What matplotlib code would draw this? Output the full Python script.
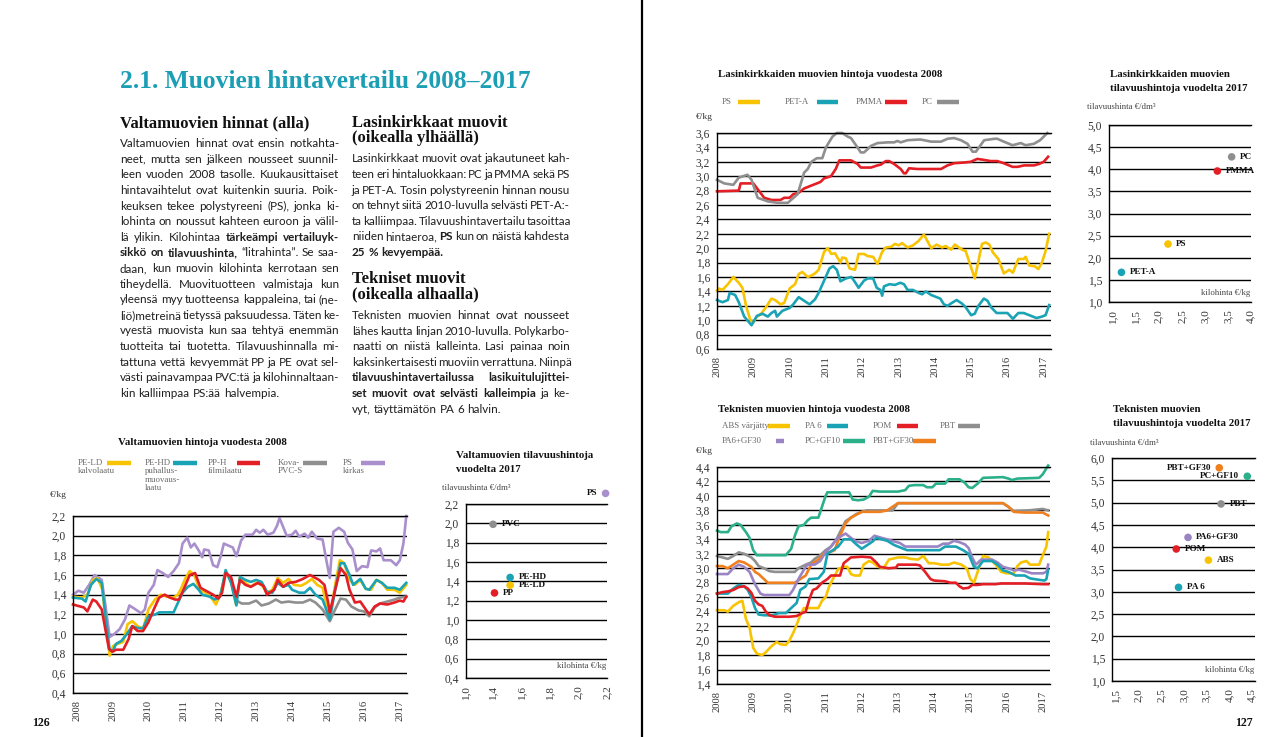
import matplotlib
matplotlib.use('Agg')
import matplotlib.pyplot as plt
from matplotlib.lines import Line2D

# page spread: two text columns + six small charts
W, H = 1280, 737
fig = plt.figure(figsize=(12.8, 7.37), dpi=100)
plt.rcParams['font.family'] = ['Liberation Serif', 'DejaVu Serif']

SERIF = 'Liberation Serif'
SANS = 'Lato'
TEAL_TITLE = '#1c9fb5'

YELLOW = '#f8c300'
TEAL = '#1aa3b4'
RED = '#e31e24'
GRAY = '#8f8f8f'
LAVENDER = '#a98fcc'
PURPLE = '#9a84c4'
GREEN = '#2bb08a'
ORANGE = '#f07f1e'


def fx(x):
    return x / W


def fy(y):
    return 1 - y / H


# ---------------- text of the page ----------------
title = '2.1. Muovien hintavertailu 2008–2017'

left_head = 'Valtamuovien hinnat (alla)'
left_lines = [
    'Valtamuovien hinnat ovat ensin notkahta-',
    'neet, mutta sen jälkeen nousseet suunnil-',
    'leen vuoden 2008 tasolle. Kuukausittaiset',
    'hintavaihtelut ovat kuitenkin suuria. Poik-',
    'keuksen tekee polystyreeni (PS), jonka ki-',
    'lohinta on noussut kahteen euroon ja välil-',
    'lä ylikin. Kilohintaa *tärkeämpi *vertailuyk-',
    '*sikkö *on *tilavuushinta, “litrahinta”. Se saa-',
    'daan, kun muovin kilohinta kerrotaan sen',
    'tiheydellä. Muovituotteen valmistaja kun',
    'yleensä myy tuotteensa kappaleina, tai (ne-',
    'liö)metreinä tietyssä paksuudessa. Täten ke-',
    'vyestä muovista kun saa tehtyä enemmän',
    'tuotteita tai tuotetta. Tilavuushinnalla mi-',
    'tattuna vettä kevyemmät PP ja PE ovat sel-',
    'västi painavampaa PVC:tä ja kilohinnaltaan-',
    'kin kalliimpaa PS:ää halvempia.',
]

right_head1 = ['Lasinkirkkaat muovit', '(oikealla ylhäällä)']
right_lines1 = [
    'Lasinkirkkaat muovit ovat jakautuneet kah-',
    'teen eri hintaluokkaan: PC ja PMMA sekä PS',
    'ja PET-A. Tosin polystyreenin hinnan nousu',
    'on tehnyt siitä 2010-luvulla selvästi PET-A:-',
    'ta kalliimpaa. Tilavuushintavertailu tasoittaa',
    'niiden hintaeroa, *PS kun on näistä kahdesta',
    '*25 *% *kevyempää.',
]
right_head2 = ['Tekniset muovit', '(oikealla alhaalla)']
right_lines2 = [
    'Teknisten muovien hinnat ovat nousseet',
    'lähes kautta linjan 2010-luvulla. Polykarbo-',
    'naatti on niistä kalleinta. Lasi painaa noin',
    'kaksinkertaisesti muoviin verrattuna. Niinpä',
    '*tilavuushintavertailussa *lasikuitulujittei-',
    '*set *muovit *ovat *selvästi *kalleimpia ja ke-',
    'vyt, täyttämätön PA 6 halvin.',
]

# ---------------- chart data ----------------
years = list(range(2008, 2018))

# Valtamuovien hintoja vuodesta 2008 (€/kg)
pe_ld = [(2007.9, 1.38), (2008.15, 1.37), (2008.3, 1.40), (2008.45, 1.55), (2008.58, 1.57), (2008.72, 1.45),
         (2008.82, 1.10), (2008.92, 0.78), (2009.02, 0.88), (2009.15, 0.90), (2009.3, 0.92), (2009.42, 1.10),
         (2009.55, 1.13), (2009.7, 1.08), (2009.85, 1.05), (2010.0, 1.25), (2010.18, 1.35), (2010.35, 1.40),
         (2010.5, 1.38), (2010.7, 1.37), (2010.82, 1.40), (2010.92, 1.47), (2011.02, 1.56), (2011.15, 1.64),
         (2011.28, 1.60), (2011.42, 1.45), (2011.6, 1.42), (2011.75, 1.37), (2011.88, 1.30), (2012.0, 1.40),
         (2012.15, 1.62), (2012.3, 1.55), (2012.44, 1.30), (2012.55, 1.58), (2012.7, 1.52), (2012.85, 1.48),
         (2013.0, 1.52), (2013.15, 1.50), (2013.3, 1.42), (2013.45, 1.45), (2013.6, 1.57), (2013.75, 1.52),
         (2013.9, 1.56), (2014.05, 1.50), (2014.25, 1.49), (2014.4, 1.52), (2014.55, 1.56), (2014.7, 1.50),
         (2014.85, 1.47), (2014.97, 1.28), (2015.05, 1.17), (2015.2, 1.50), (2015.33, 1.75), (2015.45, 1.72),
         (2015.6, 1.55), (2015.75, 1.50), (2015.9, 1.55), (2016.05, 1.46), (2016.2, 1.45), (2016.35, 1.55),
         (2016.5, 1.52), (2016.65, 1.45), (2016.85, 1.45), (2017.0, 1.42), (2017.18, 1.50)]
pe_hd = [(2007.9, 1.37), (2008.15, 1.36), (2008.25, 1.33), (2008.4, 1.50), (2008.55, 1.56), (2008.7, 1.52),
         (2008.8, 1.20), (2008.92, 0.84), (2009.0, 0.82), (2009.1, 0.90), (2009.25, 0.93), (2009.4, 1.00),
         (2009.55, 1.08), (2009.7, 1.06), (2009.85, 1.06), (2010.0, 1.18), (2010.2, 1.20), (2010.3, 1.22),
         (2010.5, 1.22), (2010.7, 1.22), (2010.8, 1.30), (2010.95, 1.42), (2011.1, 1.48), (2011.25, 1.51),
         (2011.4, 1.45), (2011.5, 1.40), (2011.7, 1.38), (2011.85, 1.35), (2012.0, 1.38), (2012.15, 1.65),
         (2012.3, 1.52), (2012.45, 1.29), (2012.55, 1.58), (2012.7, 1.55), (2012.85, 1.53), (2013.0, 1.55),
         (2013.15, 1.53), (2013.3, 1.43), (2013.45, 1.42), (2013.6, 1.52), (2013.75, 1.48), (2013.9, 1.50),
         (2014.0, 1.45), (2014.2, 1.42), (2014.35, 1.42), (2014.5, 1.47), (2014.65, 1.40), (2014.85, 1.35),
         (2015.0, 1.20), (2015.05, 1.15), (2015.2, 1.45), (2015.35, 1.72), (2015.45, 1.72), (2015.6, 1.60),
         (2015.7, 1.50), (2015.9, 1.56), (2016.05, 1.46), (2016.15, 1.45), (2016.35, 1.55), (2016.5, 1.52),
         (2016.65, 1.47), (2016.85, 1.47), (2017.0, 1.45), (2017.18, 1.52)]
pp_h = [(2007.9, 1.30), (2008.2, 1.27), (2008.3, 1.23), (2008.45, 1.35), (2008.55, 1.33), (2008.7, 1.25),
        (2008.8, 1.05), (2008.9, 0.85), (2009.0, 0.82), (2009.1, 0.84), (2009.3, 0.84), (2009.45, 0.95),
        (2009.55, 1.08), (2009.7, 1.03), (2009.85, 1.03), (2010.0, 1.12), (2010.15, 1.25), (2010.3, 1.37),
        (2010.45, 1.40), (2010.6, 1.37), (2010.75, 1.35), (2010.85, 1.35), (2011.0, 1.47), (2011.15, 1.60),
        (2011.3, 1.62), (2011.45, 1.47), (2011.6, 1.44), (2011.8, 1.40), (2011.95, 1.36), (2012.05, 1.42),
        (2012.15, 1.62), (2012.3, 1.58), (2012.45, 1.38), (2012.55, 1.55), (2012.7, 1.50), (2012.85, 1.48),
        (2013.05, 1.52), (2013.2, 1.49), (2013.3, 1.40), (2013.5, 1.45), (2013.6, 1.55), (2013.75, 1.48),
        (2013.9, 1.52), (2014.1, 1.53), (2014.3, 1.56), (2014.5, 1.60), (2014.6, 1.58), (2014.75, 1.55),
        (2014.9, 1.50), (2015.0, 1.33), (2015.05, 1.22), (2015.2, 1.45), (2015.35, 1.67), (2015.5, 1.60),
        (2015.6, 1.45), (2015.75, 1.32), (2015.9, 1.33), (2016.05, 1.25), (2016.15, 1.20), (2016.3, 1.28),
        (2016.45, 1.31), (2016.65, 1.30), (2016.85, 1.32), (2017.0, 1.34), (2017.1, 1.33), (2017.18, 1.38)]
pvc_s = [(2012.45, 1.34), (2012.6, 1.31), (2012.8, 1.31), (2013.0, 1.34), (2013.15, 1.29), (2013.35, 1.31),
         (2013.55, 1.35), (2013.7, 1.32), (2013.9, 1.33), (2014.1, 1.32), (2014.3, 1.32), (2014.5, 1.35),
         (2014.65, 1.32), (2014.85, 1.25), (2015.0, 1.16), (2015.05, 1.13), (2015.2, 1.25), (2015.35, 1.36),
         (2015.5, 1.35), (2015.65, 1.28), (2015.85, 1.24), (2016.0, 1.23), (2016.15, 1.18), (2016.3, 1.27),
         (2016.45, 1.31), (2016.65, 1.33), (2016.85, 1.35), (2017.0, 1.37), (2017.18, 1.38)]
ps_kirkas = [(2007.9, 1.40), (2008.05, 1.44), (2008.2, 1.42), (2008.35, 1.50), (2008.5, 1.60), (2008.7, 1.55),
             (2008.8, 1.30), (2008.92, 0.97), (2009.05, 1.00), (2009.2, 1.05), (2009.35, 1.15), (2009.47, 1.29),
             (2009.6, 1.26), (2009.8, 1.21), (2009.9, 1.25), (2010.0, 1.42), (2010.15, 1.50), (2010.25, 1.65),
             (2010.4, 1.62), (2010.55, 1.58), (2010.7, 1.64), (2010.85, 1.72), (2010.95, 1.92), (2011.08, 1.98),
             (2011.18, 1.88), (2011.28, 1.92), (2011.4, 1.85), (2011.5, 1.78), (2011.55, 1.86), (2011.68, 1.85),
             (2011.8, 1.70), (2011.92, 1.68), (2012.02, 1.80), (2012.1, 1.92), (2012.22, 1.90), (2012.35, 1.88),
             (2012.45, 1.79), (2012.58, 1.95), (2012.7, 2.01), (2012.9, 2.01), (2013.0, 2.06), (2013.1, 2.03),
             (2013.2, 2.06), (2013.32, 2.01), (2013.48, 2.03), (2013.58, 2.10), (2013.65, 2.18), (2013.85, 2.00),
             (2014.0, 2.01), (2014.1, 2.05), (2014.2, 1.99), (2014.35, 2.02), (2014.45, 1.98), (2014.55, 2.04),
             (2014.7, 1.97), (2014.85, 1.96), (2014.97, 1.72), (2015.05, 1.57), (2015.15, 2.04), (2015.3, 2.08),
             (2015.45, 2.04), (2015.55, 1.93), (2015.68, 1.86), (2015.8, 1.64), (2015.95, 1.69), (2016.1, 1.68),
             (2016.2, 1.85), (2016.35, 1.84), (2016.45, 1.87), (2016.55, 1.75), (2016.75, 1.75), (2016.9, 1.70),
             (2017.0, 1.75), (2017.1, 1.92), (2017.18, 2.20)]

# Valtamuovien tilavuushintoja vuodelta 2017: (kilohinta €/kg, tilavuushinta €/dm3)
bulk_names = ['PVC', 'PE-HD', 'PE-LD', 'PP', 'PS']
bulk_kilo = [1.40, 1.52, 1.52, 1.41, 2.19]
bulk_vol = [1.99, 1.44, 1.36, 1.28, 2.31]
bulk_colors = [GRAY, TEAL, YELLOW, RED, LAVENDER]
bulk_xticks = [1.21, 1.4, 1.6, 1.8, 2.0, 2.2]
bulk_xlabels = ['1,0', '1,4', '1,6', '1,8', '2,0', '2,2']

# Lasinkirkkaiden muovien hintoja vuodesta 2008 (€/kg)
ps_clear = [(2008.0, 1.41), (2008.05, 1.44), (2008.15, 1.42), (2008.3, 1.50), (2008.45, 1.60), (2008.6, 1.52),
            (2008.7, 1.45), (2008.8, 1.20), (2008.92, 1.00), (2009.0, 0.97), (2009.1, 1.05), (2009.2, 1.08),
            (2009.35, 1.18), (2009.5, 1.30), (2009.6, 1.28), (2009.75, 1.22), (2009.85, 1.24), (2010.0, 1.44),
            (2010.15, 1.50), (2010.25, 1.64), (2010.35, 1.67), (2010.5, 1.60), (2010.6, 1.62), (2010.7, 1.65),
            (2010.8, 1.70), (2010.95, 1.95), (2011.05, 2.00), (2011.15, 1.92), (2011.25, 1.93), (2011.4, 1.80),
            (2011.45, 1.87), (2011.55, 1.86), (2011.65, 1.72), (2011.8, 1.70), (2011.9, 1.92), (2012.05, 1.92),
            (2012.15, 1.89), (2012.3, 1.88), (2012.42, 1.78), (2012.55, 1.95), (2012.65, 2.01), (2012.8, 2.02),
            (2012.9, 2.06), (2013.0, 2.04), (2013.1, 2.07), (2013.25, 2.01), (2013.4, 2.04), (2013.55, 2.10),
            (2013.7, 2.19), (2013.9, 2.00), (2014.05, 2.05), (2014.2, 2.01), (2014.3, 2.03), (2014.45, 1.98),
            (2014.55, 2.05), (2014.75, 1.98), (2014.85, 1.96), (2015.1, 1.58), (2015.3, 2.06), (2015.4, 2.08),
            (2015.5, 2.05), (2015.6, 1.94), (2015.75, 1.85), (2015.9, 1.65), (2016.05, 1.70), (2016.15, 1.66),
            (2016.3, 1.85), (2016.45, 1.85), (2016.5, 1.88), (2016.6, 1.76), (2016.75, 1.75), (2016.85, 1.71),
            (2016.95, 1.80), (2017.05, 1.96), (2017.15, 2.20)]
pet_a = [(2008.0, 1.28), (2008.15, 1.25), (2008.3, 1.28), (2008.35, 1.38), (2008.5, 1.35), (2008.6, 1.25),
         (2008.75, 1.05), (2008.85, 0.99), (2008.95, 0.93), (2009.1, 1.06), (2009.25, 1.09), (2009.4, 1.05),
         (2009.5, 1.10), (2009.6, 1.13), (2009.65, 1.05), (2009.8, 1.13), (2010.0, 1.17), (2010.1, 1.22),
         (2010.25, 1.32), (2010.4, 1.27), (2010.55, 1.22), (2010.7, 1.29), (2010.8, 1.38), (2010.95, 1.55),
         (2011.1, 1.72), (2011.2, 1.75), (2011.3, 1.70), (2011.4, 1.54), (2011.55, 1.58), (2011.7, 1.60),
         (2011.8, 1.53), (2011.9, 1.45), (2012.05, 1.55), (2012.15, 1.58), (2012.3, 1.58), (2012.4, 1.45),
         (2012.5, 1.42), (2012.55, 1.34), (2012.6, 1.47), (2012.75, 1.50), (2012.9, 1.49), (2013.05, 1.52),
         (2013.15, 1.50), (2013.25, 1.42), (2013.4, 1.42), (2013.55, 1.38), (2013.65, 1.36), (2013.75, 1.40),
         (2013.9, 1.35), (2014.05, 1.32), (2014.15, 1.30), (2014.25, 1.22), (2014.35, 1.20), (2014.5, 1.25),
         (2014.6, 1.28), (2014.75, 1.23), (2014.85, 1.18), (2015.0, 1.07), (2015.1, 1.09), (2015.2, 1.20),
         (2015.35, 1.30), (2015.45, 1.27), (2015.55, 1.18), (2015.7, 1.10), (2015.85, 1.10), (2016.0, 1.10),
         (2016.15, 1.02), (2016.3, 1.10), (2016.45, 1.10), (2016.6, 1.07), (2016.8, 1.03), (2016.95, 1.05),
         (2017.05, 1.07), (2017.15, 1.21)]
pmma = [(2008.0, 2.79), (2008.6, 2.80), (2008.65, 2.90), (2009.0, 2.90), (2009.3, 2.70), (2009.5, 2.67),
        (2009.75, 2.67), (2009.85, 2.70), (2010.0, 2.70), (2010.1, 2.75), (2010.25, 2.77), (2010.4, 2.83),
        (2010.6, 2.87), (2010.85, 2.92), (2010.95, 2.97), (2011.14, 3.00), (2011.27, 3.10), (2011.37, 3.22),
        (2011.69, 3.22), (2011.87, 3.17), (2011.96, 3.12), (2012.24, 3.12), (2012.42, 3.15), (2012.51, 3.16),
        (2012.65, 3.21), (2012.74, 3.21), (2012.88, 3.17), (2013.06, 3.10), (2013.15, 3.04), (2013.2, 3.04),
        (2013.29, 3.11), (2013.52, 3.10), (2014.17, 3.10), (2014.35, 3.15), (2014.53, 3.18), (2014.8, 3.19),
        (2014.99, 3.20), (2015.17, 3.24), (2015.31, 3.23), (2015.54, 3.21), (2015.72, 3.21), (2015.9, 3.18),
        (2016.14, 3.13), (2016.28, 3.13), (2016.46, 3.15), (2016.73, 3.15), (2016.87, 3.17), (2017.0, 3.20),
        (2017.12, 3.27)]
pc = [(2008.0, 2.95), (2008.2, 2.90), (2008.45, 2.88), (2008.6, 2.98), (2008.84, 3.02), (2008.95, 2.95),
      (2009.12, 2.70), (2009.4, 2.65), (2009.67, 2.63), (2009.95, 2.63), (2010.22, 2.75), (2010.4, 3.05),
      (2010.5, 3.10), (2010.6, 3.20), (2010.75, 3.25), (2010.9, 3.25), (2011.0, 3.40), (2011.18, 3.55),
      (2011.3, 3.60), (2011.45, 3.60), (2011.6, 3.55), (2011.69, 3.53), (2011.87, 3.40), (2011.96, 3.33),
      (2012.05, 3.33), (2012.24, 3.42), (2012.42, 3.46), (2012.7, 3.47), (2012.88, 3.47), (2012.97, 3.49),
      (2013.06, 3.47), (2013.25, 3.50), (2013.6, 3.51), (2013.9, 3.48), (2014.17, 3.48), (2014.35, 3.52),
      (2014.53, 3.53), (2014.72, 3.50), (2014.9, 3.45), (2015.04, 3.34), (2015.13, 3.34), (2015.36, 3.50),
      (2015.65, 3.52), (2015.72, 3.52), (2015.9, 3.48), (2016.14, 3.43), (2016.37, 3.46), (2016.5, 3.43),
      (2016.73, 3.45), (2016.9, 3.50), (2017.1, 3.60)]

# Lasinkirkkaiden muovien tilavuushintoja vuodelta 2017
clear_names = ['PC', 'PMMA', 'PS', 'PET-A']
clear_kilo = [3.58, 3.27, 2.20, 1.19]
clear_vol = [4.28, 3.96, 2.31, 1.67]
clear_colors = [GRAY, RED, YELLOW, TEAL]

# Teknisten muovien hintoja vuodesta 2008 (€/kg)
abs_v = [(2008.0, 2.42), (2008.2, 2.42), (2008.3, 2.40), (2008.45, 2.48), (2008.6, 2.53), (2008.7, 2.55),
         (2008.8, 2.30), (2008.9, 2.18), (2009.0, 1.90), (2009.1, 1.82), (2009.25, 1.80), (2009.35, 1.84),
         (2009.5, 1.92), (2009.65, 1.98), (2009.75, 1.95), (2009.9, 1.94), (2010.0, 2.00), (2010.1, 2.10),
         (2010.2, 2.22), (2010.3, 2.35), (2010.4, 2.45), (2010.5, 2.45), (2010.8, 2.45), (2010.9, 2.55),
         (2011.0, 2.60), (2011.1, 2.75), (2011.2, 2.85), (2011.35, 2.99), (2011.5, 3.02), (2011.6, 3.02),
         (2011.7, 2.92), (2011.8, 2.90), (2011.95, 2.90), (2012.05, 3.05), (2012.2, 3.10), (2012.3, 3.08),
         (2012.45, 3.02), (2012.6, 3.00), (2012.75, 3.12), (2013.0, 3.15), (2013.2, 3.15), (2013.35, 3.13),
         (2013.55, 3.12), (2013.7, 3.17), (2013.85, 3.07), (2014.0, 3.07), (2014.2, 3.05), (2014.4, 3.05),
         (2014.55, 3.08), (2014.75, 3.05), (2014.9, 3.00), (2015.0, 2.85), (2015.1, 2.80), (2015.2, 2.95),
         (2015.35, 3.17), (2015.5, 3.15), (2015.7, 3.05), (2015.85, 2.95), (2016.0, 2.93), (2016.2, 2.93),
         (2016.3, 3.03), (2016.4, 3.08), (2016.55, 3.10), (2016.65, 3.05), (2016.9, 3.05), (2017.0, 3.18),
         (2017.1, 3.30), (2017.15, 3.50)]
pa6 = [(2008.0, 2.65), (2008.15, 2.65), (2008.3, 2.65), (2008.45, 2.72), (2008.6, 2.77), (2008.75, 2.75),
       (2008.85, 2.70), (2008.95, 2.60), (2009.05, 2.45), (2009.15, 2.36), (2009.3, 2.35), (2009.55, 2.35),
       (2009.7, 2.38), (2009.9, 2.38), (2010.05, 2.45), (2010.2, 2.52), (2010.3, 2.70), (2010.45, 2.75),
       (2010.55, 2.85), (2010.8, 2.86), (2010.95, 2.95), (2011.05, 3.20), (2011.2, 3.25), (2011.35, 3.30),
       (2011.5, 3.40), (2011.7, 3.40), (2011.85, 3.33), (2012.0, 3.27), (2012.15, 3.32), (2012.3, 3.37),
       (2012.4, 3.42), (2012.55, 3.40), (2012.7, 3.38), (2012.9, 3.32), (2013.1, 3.28), (2013.25, 3.25),
       (2014.15, 3.25), (2014.3, 3.30), (2014.6, 3.30), (2014.8, 3.25), (2014.95, 3.20), (2015.1, 3.02),
       (2015.2, 3.00), (2015.35, 3.10), (2015.6, 3.10), (2015.75, 3.05), (2015.9, 2.97), (2016.05, 2.95),
       (2016.25, 2.90), (2016.5, 2.90), (2016.65, 2.86), (2016.9, 2.84), (2017.05, 2.83), (2017.1, 2.85),
       (2017.15, 2.98)]
pom = [(2008.0, 2.65), (2008.15, 2.67), (2008.3, 2.68), (2008.45, 2.70), (2008.6, 2.74), (2008.75, 2.75),
       (2008.85, 2.72), (2008.95, 2.66), (2009.05, 2.55), (2009.15, 2.50), (2009.25, 2.48), (2009.35, 2.40),
       (2009.45, 2.35), (2009.6, 2.33), (2010.0, 2.33), (2010.2, 2.34), (2010.35, 2.38), (2010.45, 2.40),
       (2010.55, 2.57), (2010.65, 2.70), (2010.75, 2.72), (2010.9, 2.80), (2011.05, 2.85), (2011.15, 2.90),
       (2011.4, 2.90), (2011.5, 3.07), (2011.7, 3.15), (2012.0, 3.16), (2012.25, 3.15), (2012.4, 3.08),
       (2012.5, 3.02), (2012.75, 3.00), (2012.95, 3.01), (2013.0, 3.05), (2013.5, 3.05), (2013.6, 3.04),
       (2013.75, 2.95), (2013.9, 2.85), (2014.0, 2.83), (2014.3, 2.82), (2014.45, 2.80), (2014.6, 2.80),
       (2014.7, 2.75), (2014.8, 2.72), (2014.95, 2.73), (2015.05, 2.77), (2015.2, 2.77), (2015.35, 2.78),
       (2015.7, 2.78), (2015.85, 2.79), (2016.5, 2.79), (2017.0, 2.78), (2017.15, 2.78)]
pbt = [(2008.0, 3.17), (2008.15, 3.15), (2008.3, 3.13), (2008.45, 3.17), (2008.6, 3.22), (2008.75, 3.20),
       (2008.95, 3.15), (2009.05, 3.10), (2009.15, 3.03), (2009.3, 3.00), (2009.45, 2.96), (2009.6, 2.95),
       (2010.15, 2.95), (2010.25, 3.00), (2010.45, 3.05), (2010.6, 3.08), (2010.7, 3.13), (2010.85, 3.18),
       (2011.0, 3.25), (2011.15, 3.30), (2011.3, 3.40), (2011.45, 3.55), (2011.55, 3.65), (2011.7, 3.70),
       (2011.85, 3.75), (2012.0, 3.78), (2012.15, 3.80), (2012.85, 3.80), (2013.0, 3.90), (2015.9, 3.90),
       (2016.05, 3.85), (2016.2, 3.79), (2016.6, 3.80), (2017.0, 3.82), (2017.15, 3.80)]
pa6_gf30 = [(2008.0, 2.92), (2008.3, 2.92), (2008.45, 3.00), (2008.6, 3.05), (2008.75, 3.02), (2008.9, 2.95),
            (2009.05, 2.78), (2009.2, 2.65), (2009.3, 2.63), (2010.0, 2.63), (2010.1, 2.70), (2010.25, 2.85),
            (2010.4, 2.98), (2010.5, 3.05), (2010.7, 3.05), (2010.85, 3.10), (2011.0, 3.22), (2011.15, 3.30),
            (2011.3, 3.40), (2011.45, 3.45), (2011.55, 3.48), (2011.7, 3.42), (2011.85, 3.37), (2012.0, 3.35),
            (2012.2, 3.38), (2012.35, 3.45), (2012.55, 3.42), (2012.7, 3.40), (2012.9, 3.37), (2013.05, 3.35),
            (2013.2, 3.30), (2014.1, 3.30), (2014.25, 3.34), (2014.4, 3.34), (2014.55, 3.38), (2014.7, 3.36),
            (2014.85, 3.33), (2014.95, 3.28), (2015.05, 3.15), (2015.15, 3.05), (2015.3, 3.12), (2015.6, 3.12),
            (2015.75, 3.08), (2015.9, 3.02), (2016.05, 3.00), (2016.2, 2.97), (2016.35, 2.98), (2016.5, 2.96),
            (2016.7, 2.93), (2017.0, 2.93), (2017.1, 2.95), (2017.15, 3.05)]
pc_gf10 = [(2008.0, 3.52), (2008.1, 3.50), (2008.3, 3.50), (2008.4, 3.58), (2008.55, 3.62), (2008.65, 3.60),
           (2008.8, 3.50), (2008.9, 3.42), (2009.0, 3.25), (2009.1, 3.18), (2009.9, 3.18), (2010.05, 3.27),
           (2010.15, 3.45), (2010.25, 3.58), (2010.4, 3.60), (2010.5, 3.66), (2010.6, 3.70), (2010.8, 3.70),
           (2010.9, 3.85), (2011.0, 4.00), (2011.05, 4.05), (2011.65, 4.05), (2011.75, 3.95), (2011.9, 3.94),
           (2012.05, 3.95), (2012.2, 3.99), (2012.3, 4.07), (2012.5, 4.06), (2013.0, 4.06), (2013.2, 4.08),
           (2013.3, 4.14), (2013.45, 4.15), (2013.7, 4.15), (2013.8, 4.12), (2013.95, 4.12), (2014.05, 4.17),
           (2014.3, 4.17), (2014.4, 4.23), (2014.7, 4.23), (2014.85, 4.18), (2014.95, 4.12), (2015.05, 4.11),
           (2015.2, 4.17), (2015.35, 4.25), (2015.9, 4.26), (2016.05, 4.24), (2016.15, 4.22), (2016.3, 4.24),
           (2016.9, 4.25), (2017.0, 4.30), (2017.1, 4.38), (2017.15, 4.42)]
pbt_gf30 = [(2008.0, 3.03), (2008.15, 3.03), (2008.3, 3.00), (2008.45, 3.05), (2008.6, 3.10), (2008.75, 3.08),
            (2008.95, 3.02), (2009.05, 2.95), (2009.15, 2.92), (2009.3, 2.85), (2009.4, 2.80), (2010.15, 2.80),
            (2010.3, 2.85), (2010.45, 2.90), (2010.6, 3.05), (2010.8, 3.12), (2010.95, 3.20), (2011.1, 3.22),
            (2011.25, 3.25), (2011.4, 3.45), (2011.55, 3.62), (2011.7, 3.70), (2011.85, 3.74), (2012.0, 3.78),
            (2012.5, 3.78), (2012.7, 3.80), (2012.85, 3.85), (2013.0, 3.90), (2015.9, 3.90), (2016.05, 3.85),
            (2016.2, 3.78), (2016.5, 3.77), (2017.0, 3.77), (2017.15, 3.73)]

# Teknisten muovien tilavuushintoja vuodelta 2017
tech_names = ['PBT+GF30', 'PC+GF10', 'PBT', 'PA6+GF30', 'POM', 'ABS', 'PA 6']
tech_kilo = [3.78, 4.40, 3.82, 3.09, 2.83, 3.54, 2.88]
tech_vol = [5.78, 5.59, 4.97, 4.22, 3.96, 3.71, 3.10]
tech_colors = [ORANGE, GREEN, GRAY, PURPLE, RED, YELLOW, TEAL]
tech_label_left = [True, True, False, False, False, False, False]


# ---------------- helpers ----------------
renderer = fig.canvas.get_renderer()


def body_line(x0, base, line, width, justify, size=8.4):
    arts = []
    for w in line.split(' '):
        bold = w.startswith('*')
        t = fig.text(fx(x0), fy(base), w.lstrip('*'), fontsize=size, family=SANS,
                     weight='bold' if bold else 'normal', va='baseline', ha='left', color='#1e1e1e')
        arts.append(t)
    widths = [a.get_window_extent(renderer).width for a in arts]
    if justify and len(arts) > 1:
        gap = max((width - sum(widths)) / (len(arts) - 1), 1.5)
    else:
        gap = size * 0.36
    x = x0
    for a, w in zip(arts, widths):
        a.set_x(fx(x))
        x += w + gap


def paragraph(x0, base0, lines, width, step=15.6):
    for i, ln in enumerate(lines):
        body_line(x0, base0 + i * step, ln, width, i < len(lines) - 1)


def fig_line(x1, x2, y, color, lw=3.2):
    fig.add_artist(Line2D([fx(x1), fx(x2)], [fy(y), fy(y)], color=color, lw=lw,
                          transform=fig.transFigure, solid_capstyle='butt'))


def legend_item(x, y, label, lx1, lx2, color):
    fig.text(fx(x), fy(y - 4), label, fontsize=6.4, family=SERIF, color='#6a6a6a',
             va='top', ha='left', linespacing=1.05)
    fig_line(lx1, lx2, y, color)


def fmt(v):
    return f'{v:.1f}'.replace('.', ',')


def base_axes(l, r, t, b, ylim, step):
    ax = fig.add_axes([fx(l), fy(b), (r - l) / W, (b - t) / H])
    ax.patch.set_alpha(0)
    ax.set_ylim(*ylim)
    n = int(round((ylim[1] - ylim[0]) / step))
    yt = [round(ylim[0] + i * step, 2) for i in range(n + 1)]
    ax.set_yticks(yt)
    ax.set_yticklabels([fmt(v) for v in yt])
    ax.grid(axis='y', color='black', lw=1.0)
    ax.spines['right'].set_visible(False)
    for s in ['left', 'top', 'bottom']:
        ax.spines[s].set_color('black')
        ax.spines[s].set_linewidth(1.0)
    ax.tick_params(length=0, labelsize=8.3, labelcolor='#333333', pad=5)
    return ax


def time_axes(l, r, t, b, ylim, step, xlim):
    ax = base_axes(l, r, t, b, ylim, step)
    ax.set_xlim(*xlim)
    ax.set_xticks(years)
    ax.set_xticklabels([str(y) for y in years], rotation=90, fontsize=7.6)
    return ax


def plot_series(ax, data, color, lw=1.9):
    t, v = zip(*data)
    ax.plot(t, v, color=color, lw=lw, solid_joinstyle='round', clip_on=False)


def scatter_axes(l, r, t, b, ylim, step, xlim, xt, xl):
    ax = base_axes(l, r, t, b, ylim, step)
    ax.set_xlim(*xlim)
    ax.set_xticks(xt)
    ax.set_xticklabels(xl, rotation=90, fontsize=8.0)
    return ax


def label_points(ax, names, xs, ys, colors, left=None):
    ax.scatter(xs, ys, s=30, c=colors, zorder=3, clip_on=False, linewidths=0)
    for i, (n, x, y) in enumerate(zip(names, xs, ys)):
        on_left = left[i] if left else False
        ax.annotate(n, (x, y), xytext=(-6 if on_left else 6, 0), textcoords='offset points',
                    ha='right' if on_left else 'left', va='center', fontsize=6.6,
                    weight='bold', family=SERIF, color='#111111', annotation_clip=False)


# ---------------- page text ----------------
fig.text(fx(120), fy(88), title, fontsize=18.4, weight='bold', family=SERIF, color=TEAL_TITLE, va='baseline')

HEAD = 12.0
fig.text(fx(120), fy(127.5), left_head, fontsize=HEAD, weight='bold', family=SERIF, color='#111111', va='baseline')
paragraph(120, 147.3, left_lines, 219)

fig.text(fx(351.7), fy(127.2), right_head1[0], fontsize=HEAD, weight='bold', family=SERIF, color='#111111', va='baseline')
fig.text(fx(351.7), fy(142.4), right_head1[1], fontsize=HEAD, weight='bold', family=SERIF, color='#111111', va='baseline')
paragraph(351.7, 162.3, right_lines1, 218)
fig.text(fx(351.7), fy(282.8), right_head2[0], fontsize=HEAD, weight='bold', family=SERIF, color='#111111', va='baseline')
fig.text(fx(351.7), fy(298.0), right_head2[1], fontsize=HEAD, weight='bold', family=SERIF, color='#111111', va='baseline')
paragraph(351.7, 319, right_lines2, 218)

# page numbers and the fold between pages
fig.text(fx(32), fy(726), '126', fontsize=8.6, weight='bold', family=SERIF, color='#111111', va='baseline')
fig.text(fx(1253), fy(726), '127', fontsize=8.6, weight='bold', family=SERIF, color='#111111', va='baseline', ha='right')
fig.add_artist(Line2D([fx(642), fx(642)], [0, 1], color='black', lw=1.6, transform=fig.transFigure))

# ---------------- chart A: Valtamuovien hintoja ----------------
fig.text(fx(118), fy(445), 'Valtamuovien hintoja vuodesta 2008', fontsize=7.8, weight='bold',
         family=SERIF, color='#111111', va='baseline')
legend_item(78, 463, 'PE-LD\nkalvolaatu', 107, 131, YELLOW)
legend_item(145, 463, 'PE-HD\npuhallus-\nmuovaus-\nlaatu', 173, 197, TEAL)
legend_item(208, 463, 'PP-H\nfilmilaatu', 237, 260, RED)
legend_item(278, 463, 'Kova-\nPVC-S', 303, 327, GRAY)
legend_item(343, 463, 'PS\nkirkas', 361, 385, LAVENDER)
fig.text(fx(50), fy(495), '€/kg', fontsize=6.8, family=SERIF, color='#333333', va='center')

axA = time_axes(73, 407, 516, 693, (0.4, 2.2), 0.2, (2007.9, 2017.2))
plot_series(axA, pvc_s, GRAY)
plot_series(axA, ps_kirkas, LAVENDER)
plot_series(axA, pe_ld, YELLOW)
plot_series(axA, pe_hd, TEAL)
plot_series(axA, pp_h, RED)

# ---------------- chart B: Valtamuovien tilavuushintoja ----------------
fig.text(fx(456), fy(458.3), 'Valtamuovien tilavuushintoja', fontsize=7.8, weight='bold',
         family=SERIF, color='#111111', va='baseline')
fig.text(fx(456), fy(471.7), 'vuodelta 2017', fontsize=7.8, weight='bold', family=SERIF,
         color='#111111', va='baseline')
fig.text(fx(442), fy(488), 'tilavuushinta €/dm³', fontsize=6.3, family=SERIF, color='#444444', va='center')
axB = scatter_axes(466, 607, 504, 678, (0.4, 2.2), 0.2, (1.21, 2.2), bulk_xticks, bulk_xlabels)
label_points(axB, bulk_names, bulk_kilo, bulk_vol, bulk_colors, left=[False, False, False, False, True])
axB.text(0.995, 0.045, 'kilohinta €/kg', transform=axB.transAxes, ha='right', va='bottom',
         fontsize=6.3, color='#444444')

# ---------------- chart C: Lasinkirkkaiden muovien hintoja ----------------
fig.text(fx(718), fy(77.3), 'Lasinkirkkaiden muovien hintoja vuodesta 2008', fontsize=7.8, weight='bold',
         family=SERIF, color='#111111', va='baseline')
legend_item(722, 102, 'PS', 738, 760, YELLOW)
legend_item(785, 102, 'PET-A', 817, 838, TEAL)
legend_item(856, 102, 'PMMA', 885, 907, RED)
legend_item(922, 102, 'PC', 937, 959, GRAY)
fig.text(fx(696), fy(117), '€/kg', fontsize=6.8, family=SERIF, color='#333333', va='center')

axC = time_axes(717, 1051, 133, 349, (0.6, 3.6), 0.2, (2008.0, 2017.2))
plot_series(axC, ps_clear, YELLOW)
plot_series(axC, pet_a, TEAL)
plot_series(axC, pmma, RED)
plot_series(axC, pc, GRAY)

# ---------------- chart D: Lasinkirkkaiden tilavuushintoja ----------------
fig.text(fx(1110), fy(77.3), 'Lasinkirkkaiden muovien', fontsize=7.8, weight='bold', family=SERIF,
         color='#111111', va='baseline')
fig.text(fx(1110), fy(90.7), 'tilavuushintoja vuodelta 2017', fontsize=7.8, weight='bold', family=SERIF,
         color='#111111', va='baseline')
fig.text(fx(1087), fy(107), 'tilavuushinta €/dm³', fontsize=6.3, family=SERIF, color='#444444', va='center')
axD = scatter_axes(1109, 1251, 125, 302, (1.0, 5.0), 0.5, (0.92, 4.0),
                   [1.0, 1.5, 2.0, 2.5, 3.0, 3.5, 4.0], ['1,0', '1,5', '2,0', '2,5', '3,0', '3,5', '4,0'])
label_points(axD, clear_names, clear_kilo, clear_vol, clear_colors)
axD.text(0.995, 0.03, 'kilohinta €/kg', transform=axD.transAxes, ha='right', va='bottom',
         fontsize=6.3, color='#444444')

# ---------------- chart E: Teknisten muovien hintoja ----------------
fig.text(fx(718), fy(412.3), 'Teknisten muovien hintoja vuodesta 2008', fontsize=7.8, weight='bold',
         family=SERIF, color='#111111', va='baseline')
legend_item(722, 426, 'ABS värjätty', 768, 790, YELLOW)
legend_item(805, 426, 'PA 6', 827, 848, TEAL)
legend_item(873, 426, 'POM', 897, 918, RED)
legend_item(940, 426, 'PBT', 958, 980, GRAY)
legend_item(722, 441, 'PA6+GF30', 776, 784, PURPLE)
legend_item(805, 441, 'PC+GF10', 843, 865, GREEN)
legend_item(873, 441, 'PBT+GF30', 913, 936, ORANGE)
fig.text(fx(696), fy(451), '€/kg', fontsize=6.8, family=SERIF, color='#333333', va='center')

axE = time_axes(717, 1050, 467, 684, (1.4, 4.4), 0.2, (2008.0, 2017.2))
plot_series(axE, pbt, GRAY)
plot_series(axE, pbt_gf30, ORANGE)
plot_series(axE, pc_gf10, GREEN)
plot_series(axE, abs_v, YELLOW)
plot_series(axE, pa6_gf30, PURPLE)
plot_series(axE, pa6, TEAL)
plot_series(axE, pom, RED)

# ---------------- chart F: Teknisten tilavuushintoja ----------------
fig.text(fx(1113), fy(412.3), 'Teknisten muovien', fontsize=7.8, weight='bold', family=SERIF,
         color='#111111', va='baseline')
fig.text(fx(1113), fy(425.7), 'tilavuushintoja vuodelta 2017', fontsize=7.8, weight='bold', family=SERIF,
         color='#111111', va='baseline')
fig.text(fx(1090), fy(443), 'tilavuushinta €/dm³', fontsize=6.3, family=SERIF, color='#444444', va='center')
axF = scatter_axes(1112, 1255, 458, 681, (1.0, 6.0), 0.5, (1.41, 4.57),
                   [1.5, 2.0, 2.5, 3.0, 3.5, 4.0, 4.5], ['1,5', '2,0', '2,5', '3,0', '3,5', '4,0', '4,5'])
label_points(axF, tech_names, tech_kilo, tech_vol, tech_colors, left=tech_label_left)
axF.text(0.995, 0.03, 'kilohinta €/kg', transform=axF.transAxes, ha='right', va='bottom',
         fontsize=6.3, color='#444444')

fig.savefig('out.png', dpi=100)
